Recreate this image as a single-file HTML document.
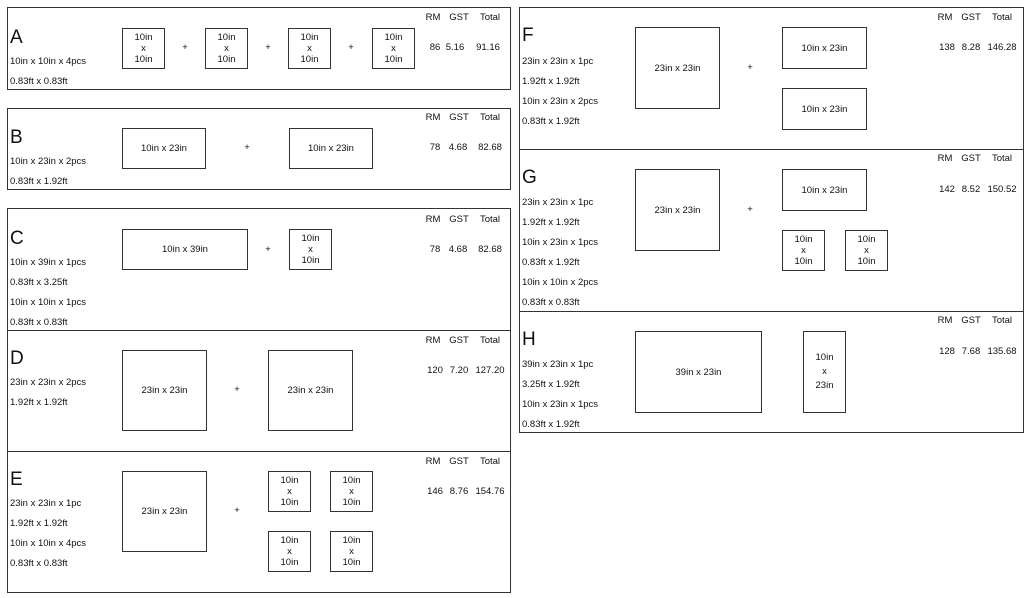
<!DOCTYPE html>
<html><head><meta charset="utf-8"><style>
body{margin:0;width:1029px;height:598px;background:#fff;position:relative;overflow:hidden;font-family:"Liberation Sans",Arial,sans-serif;color:#111}
div{position:absolute;box-sizing:border-box}
.f{border:1.5px solid #333}
.h{height:0;border-top:1.5px solid #333}
.b{border:1.5px solid #333;display:flex;align-items:center;justify-content:center;text-align:center;font-size:9.5px;line-height:11px}
.t{font-size:9.5px;white-space:nowrap;line-height:12px}
.L{font-size:19px;line-height:20px}
.c{width:40px;text-align:center;font-size:9.5px;line-height:12px}
</style></head><body>
<!-- frames -->
<div class="f" style="left:7px;top:7px;width:504px;height:83px"></div>
<div class="f" style="left:7px;top:108px;width:504px;height:82px"></div>
<div class="f" style="left:7px;top:208px;width:504px;height:385px"></div>
<div class="h" style="left:7px;top:330px;width:504px"></div>
<div class="h" style="left:7px;top:451px;width:504px"></div>
<div class="f" style="left:519px;top:7px;width:505px;height:426px"></div>
<div class="h" style="left:519px;top:149px;width:505px"></div>
<div class="h" style="left:519px;top:311px;width:505px"></div>

<!-- A -->
<div class="L" style="left:10px;top:28px">A</div>
<div class="t" style="left:10px;top:56px">10in x 10in x 4pcs</div>
<div class="t" style="left:10px;top:76px">0.83ft x 0.83ft</div>
<div class="b" style="left:122px;top:28px;width:43px;height:41px">10in<br>x<br>10in</div>
<div class="b" style="left:205px;top:28px;width:43px;height:41px">10in<br>x<br>10in</div>
<div class="b" style="left:288px;top:28px;width:43px;height:41px">10in<br>x<br>10in</div>
<div class="b" style="left:372px;top:28px;width:43px;height:41px">10in<br>x<br>10in</div>
<div class="c" style="left:165px;top:42px">+</div>
<div class="c" style="left:248px;top:42px">+</div>
<div class="c" style="left:331px;top:42px">+</div>

<!-- B -->
<div class="L" style="left:10px;top:128px">B</div>
<div class="t" style="left:10px;top:156px">10in x 23in x 2pcs</div>
<div class="t" style="left:10px;top:176px">0.83ft x 1.92ft</div>
<div class="b" style="left:122px;top:128px;width:84px;height:41px">10in x 23in</div>
<div class="b" style="left:289px;top:128px;width:84px;height:41px">10in x 23in</div>
<div class="c" style="left:227px;top:142px">+</div>

<!-- C -->
<div class="L" style="left:10px;top:229px">C</div>
<div class="t" style="left:10px;top:257px">10in x 39in x 1pcs</div>
<div class="t" style="left:10px;top:277px">0.83ft x 3.25ft</div>
<div class="t" style="left:10px;top:297px">10in x 10in x 1pcs</div>
<div class="t" style="left:10px;top:317px">0.83ft x 0.83ft</div>
<div class="b" style="left:122px;top:229px;width:126px;height:41px">10in x 39in</div>
<div class="b" style="left:289px;top:229px;width:43px;height:41px">10in<br>x<br>10in</div>
<div class="c" style="left:248px;top:244px">+</div>

<!-- D -->
<div class="L" style="left:10px;top:349px">D</div>
<div class="t" style="left:10px;top:377px">23in x 23in x 2pcs</div>
<div class="t" style="left:10px;top:397px">1.92ft x 1.92ft</div>
<div class="b" style="left:122px;top:350px;width:85px;height:81px">23in x 23in</div>
<div class="b" style="left:268px;top:350px;width:85px;height:81px">23in x 23in</div>
<div class="c" style="left:217px;top:384px">+</div>

<!-- E -->
<div class="L" style="left:10px;top:470px">E</div>
<div class="t" style="left:10px;top:498px">23in x 23in x 1pc</div>
<div class="t" style="left:10px;top:518px">1.92ft x 1.92ft</div>
<div class="t" style="left:10px;top:538px">10in x 10in x 4pcs</div>
<div class="t" style="left:10px;top:558px">0.83ft x 0.83ft</div>
<div class="b" style="left:122px;top:471px;width:85px;height:81px">23in x 23in</div>
<div class="c" style="left:217px;top:505px">+</div>
<div class="b" style="left:268px;top:471px;width:43px;height:41px">10in<br>x<br>10in</div>
<div class="b" style="left:330px;top:471px;width:43px;height:41px">10in<br>x<br>10in</div>
<div class="b" style="left:268px;top:531px;width:43px;height:41px">10in<br>x<br>10in</div>
<div class="b" style="left:330px;top:531px;width:43px;height:41px">10in<br>x<br>10in</div>

<!-- F -->
<div class="L" style="left:522px;top:26px">F</div>
<div class="t" style="left:522px;top:56px">23in x 23in x 1pc</div>
<div class="t" style="left:522px;top:76px">1.92ft x 1.92ft</div>
<div class="t" style="left:522px;top:96px">10in x 23in x 2pcs</div>
<div class="t" style="left:522px;top:116px">0.83ft x 1.92ft</div>
<div class="b" style="left:635px;top:27px;width:85px;height:82px">23in x 23in</div>
<div class="c" style="left:730px;top:62px">+</div>
<div class="b" style="left:782px;top:27px;width:85px;height:42px">10in x 23in</div>
<div class="b" style="left:782px;top:88px;width:85px;height:42px">10in x 23in</div>

<!-- G -->
<div class="L" style="left:522px;top:168px">G</div>
<div class="t" style="left:522px;top:197px">23in x 23in x 1pc</div>
<div class="t" style="left:522px;top:217px">1.92ft x 1.92ft</div>
<div class="t" style="left:522px;top:237px">10in x 23in x 1pcs</div>
<div class="t" style="left:522px;top:257px">0.83ft x 1.92ft</div>
<div class="t" style="left:522px;top:277px">10in x 10in x 2pcs</div>
<div class="t" style="left:522px;top:297px">0.83ft x 0.83ft</div>
<div class="b" style="left:635px;top:169px;width:85px;height:82px">23in x 23in</div>
<div class="c" style="left:730px;top:204px">+</div>
<div class="b" style="left:782px;top:169px;width:85px;height:42px">10in x 23in</div>
<div class="b" style="left:782px;top:230px;width:43px;height:41px">10in<br>x<br>10in</div>
<div class="b" style="left:845px;top:230px;width:43px;height:41px">10in<br>x<br>10in</div>

<!-- H -->
<div class="L" style="left:522px;top:330px">H</div>
<div class="t" style="left:522px;top:359px">39in x 23in x 1pc</div>
<div class="t" style="left:522px;top:379px">3.25ft x 1.92ft</div>
<div class="t" style="left:522px;top:399px">10in x 23in x 1pcs</div>
<div class="t" style="left:522px;top:419px">0.83ft x 1.92ft</div>
<div class="b" style="left:635px;top:331px;width:127px;height:82px">39in x 23in</div>
<div class="b" style="left:803px;top:331px;width:43px;height:82px;line-height:14px">10in<br>x<br>23in</div>

<!-- price headers/values: left column -->
<div class="c" style="left:413px;top:12px">RM</div><div class="c" style="left:439px;top:12px">GST</div><div class="c" style="left:470px;top:12px">Total</div>
<div class="c" style="left:415px;top:42px">86</div><div class="c" style="left:435px;top:42px">5.16</div><div class="c" style="left:468px;top:42px">91.16</div>

<div class="c" style="left:413px;top:112px">RM</div><div class="c" style="left:439px;top:112px">GST</div><div class="c" style="left:470px;top:112px">Total</div>
<div class="c" style="left:415px;top:142px">78</div><div class="c" style="left:438px;top:142px">4.68</div><div class="c" style="left:470px;top:142px">82.68</div>

<div class="c" style="left:413px;top:214px">RM</div><div class="c" style="left:439px;top:214px">GST</div><div class="c" style="left:470px;top:214px">Total</div>
<div class="c" style="left:415px;top:244px">78</div><div class="c" style="left:438px;top:244px">4.68</div><div class="c" style="left:470px;top:244px">82.68</div>

<div class="c" style="left:413px;top:335px">RM</div><div class="c" style="left:439px;top:335px">GST</div><div class="c" style="left:470px;top:335px">Total</div>
<div class="c" style="left:415px;top:365px">120</div><div class="c" style="left:439px;top:365px">7.20</div><div class="c" style="left:470px;top:365px">127.20</div>

<div class="c" style="left:413px;top:456px">RM</div><div class="c" style="left:439px;top:456px">GST</div><div class="c" style="left:470px;top:456px">Total</div>
<div class="c" style="left:415px;top:486px">146</div><div class="c" style="left:439px;top:486px">8.76</div><div class="c" style="left:470px;top:486px">154.76</div>

<!-- right column -->
<div class="c" style="left:925px;top:12px">RM</div><div class="c" style="left:951px;top:12px">GST</div><div class="c" style="left:982px;top:12px">Total</div>
<div class="c" style="left:927px;top:42px">138</div><div class="c" style="left:951px;top:42px">8.28</div><div class="c" style="left:982px;top:42px">146.28</div>

<div class="c" style="left:925px;top:153px">RM</div><div class="c" style="left:951px;top:153px">GST</div><div class="c" style="left:982px;top:153px">Total</div>
<div class="c" style="left:927px;top:184px">142</div><div class="c" style="left:951px;top:184px">8.52</div><div class="c" style="left:982px;top:184px">150.52</div>

<div class="c" style="left:925px;top:315px">RM</div><div class="c" style="left:951px;top:315px">GST</div><div class="c" style="left:982px;top:315px">Total</div>
<div class="c" style="left:927px;top:346px">128</div><div class="c" style="left:951px;top:346px">7.68</div><div class="c" style="left:982px;top:346px">135.68</div>
</body></html>
